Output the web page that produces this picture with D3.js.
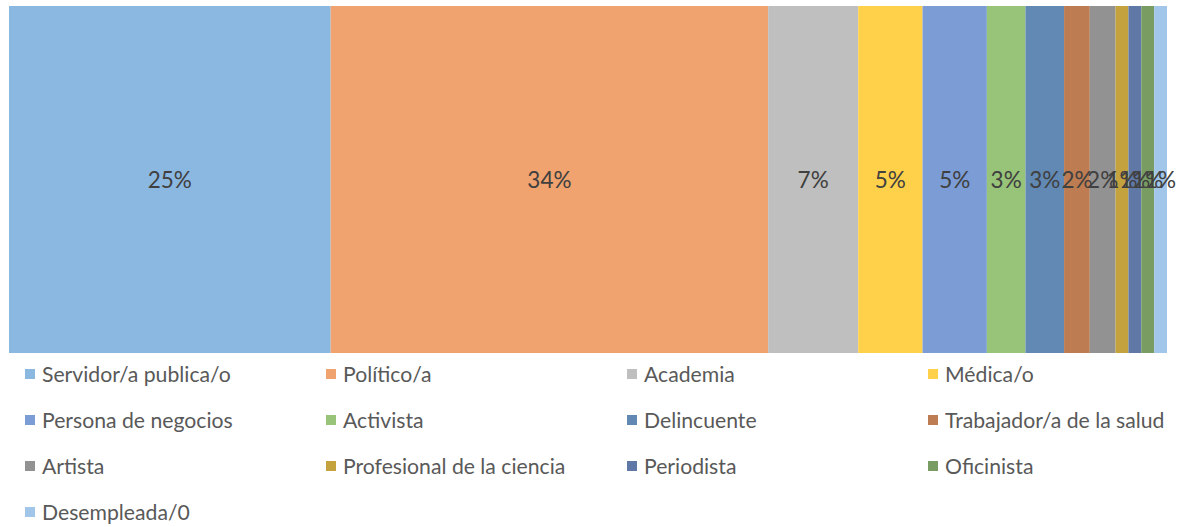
<!DOCTYPE html>
<html>
<head>
<meta charset="utf-8">
<script src="https://cdn.jsdelivr.net/npm/d3@7"></script>
<style>
  html, body { margin: 0; padding: 0; background: #ffffff; }
  svg { display: block; }
</style>
</head>
<body>
<svg id="chart" width="1184" height="527"></svg>
<script>
// Occupation categories, in stacking order
const categories = [
  "Servidor/a publica/o", "Político/a", "Academia", "Médica/o",
  "Persona de negocios", "Activista", "Delincuente", "Trabajador/a de la salud",
  "Artista", "Profesional de la ciencia", "Periodista", "Oficinista", "Desempleada/0"
];
// Share of each category (percent)
const values = [25, 34, 7, 5, 5, 3, 3, 2, 2, 1, 1, 1, 1];
// Fill colour per category
const colors = [
  "#8bb8e1", "#f0a36e", "#bfbfbf", "#ffd14a",
  "#7b9cd4", "#98c47a", "#6189b4", "#be7c52",
  "#929292", "#c4a33e", "#6078a6", "#789c62", "#a2c6ea"
];

const svg = d3.select("#chart");
const font = "Lato, 'Open Sans', sans-serif";

const margin = { left: 9, right: 17, top: 6 };
const barHeight = 347;
const total = d3.sum(values);

const x = d3.scaleLinear()
  .domain([0, total])
  .range([margin.left, 1184 - margin.right]);

const stacked = values.map((v, i) => ({
  name: categories[i],
  value: v,
  start: d3.sum(values.slice(0, i)),
  color: colors[i]
}));

// Stacked segments
svg.append("g")
  .selectAll("rect")
  .data(stacked)
  .join("rect")
  .attr("x", d => x(d.start))
  .attr("y", margin.top)
  .attr("width", d => x(d.start + d.value) - x(d.start))
  .attr("height", barHeight)
  .attr("fill", d => d.color);

// Percentage labels centred on each segment
svg.append("g")
  .selectAll("text")
  .data(stacked)
  .join("text")
  .attr("x", d => x(d.start + d.value / 2))
  .attr("y", margin.top + barHeight / 2 + 8)
  .attr("text-anchor", "middle")
  .attr("font-family", font)
  .attr("font-size", 22.5)
  .attr("fill", "#404040")
  .text(d => d.value + "%");

// Legend: four columns
const cols = 4, colW = 301, rowH = 46, legX = 25, legY = 374;
const legend = svg.append("g")
  .selectAll("g")
  .data(stacked)
  .join("g")
  .attr("transform", (d, i) => `translate(${legX + (i % cols) * colW},${legY + Math.floor(i / cols) * rowH})`);

legend.append("rect")
  .attr("x", 0)
  .attr("y", -5)
  .attr("width", 10)
  .attr("height", 10)
  .attr("fill", d => d.color);

legend.append("text")
  .attr("x", 17)
  .attr("y", 7.5)
  .attr("font-family", font)
  .attr("font-size", 21.2)
  .attr("fill", "#595959")
  .text(d => d.name);
</script>
</body>
</html>
